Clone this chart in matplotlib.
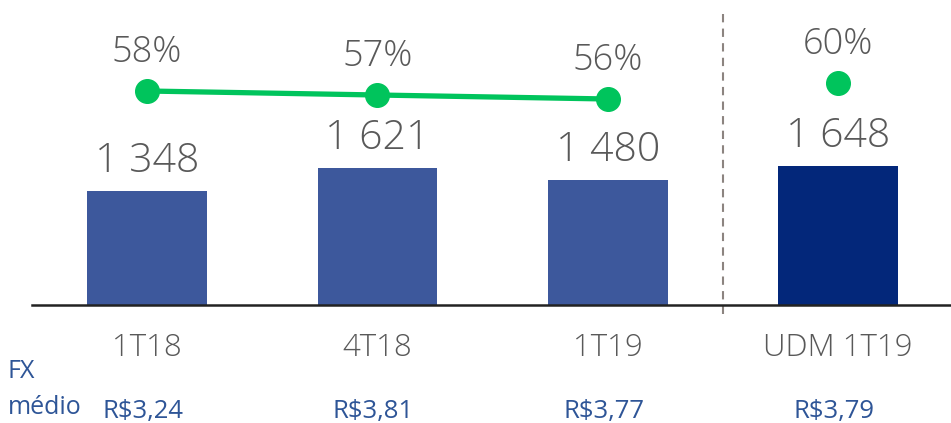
import matplotlib.pyplot as plt

plt.rcParams['font.family'] = ['Open Sans', 'DejaVu Sans']
plt.rcParams['font.weight'] = 'light'

categories = ['1T18', '4T18', '1T19', 'UDM 1T19']
values = [1348, 1621, 1480, 1648]
value_labels = ['1 348', '1 621', '1 480', '1 648']
pct = [58, 57, 56, 60]
fx = ['R$3,24', 'R$3,81', 'R$3,77', 'R$3,79']

bar_colors = ['#3d589c', '#3d589c', '#3d589c', '#03277a']
green = '#00c45c'
grey = '#595959'
blue = '#2e5597'

fig = plt.figure(figsize=(9.51, 4.23), dpi=100)
# axes: left edge at x=32px, baseline at y=305px
ax = fig.add_axes([32 / 951, (423 - 305) / 423, (951 - 32) / 951, 305 / 423])
x = list(range(len(categories)))

ax.bar(x, values, width=0.52, color=bar_colors, zorder=2)
for xi, v, lab in zip(x, values, value_labels):
    ax.annotate(lab, (xi, v), xytext=(0, 19), textcoords='offset pixels',
                ha='center', va='baseline', fontsize=29.5, color=grey)

ax.set_xlim(-0.5, 3.49)
ax.set_ylim(0, 3605)
for s in ['top', 'right', 'left']:
    ax.spines[s].set_visible(False)
ax.spines['bottom'].set_color('#222222')
ax.spines['bottom'].set_linewidth(1.8)
ax.set_yticks([])
ax.set_xticks([])

# category names and average FX below the axis
for xi, c, f in zip(x, categories, fx):
    ax.annotate(c, (xi, 0), xytext=(0, -51), textcoords='offset pixels',
                ha='center', va='baseline', fontsize=22.5, color=grey,
                annotation_clip=False)
    ax.annotate(f, (xi, 0), xytext=(-4, -113), textcoords='offset pixels',
                ha='center', va='baseline', fontsize=18.5, color=blue,
                fontweight='normal', annotation_clip=False)

# separator before UDM
ax.axvline(2.5, ymin=-0.03, ymax=0.96, color='#8c8480', linestyle=(0, (4, 3)),
           linewidth=1.5, clip_on=False)

# percentages on secondary axis
ax2 = ax.twinx()
ax2.set_ylim(4.5, 80.75)
ax2.axis('off')
ax2.plot(x[:3], pct[:3], color=green, linewidth=3.8, marker='o', markersize=17, zorder=3)
ax2.plot(x[3:], pct[3:], color=green, linestyle='none', marker='o', markersize=17)
for xi, p in zip(x, pct):
    ax2.annotate(f'{p}%', (xi, p), xytext=(0, 29), textcoords='offset pixels',
                 ha='center', va='baseline', fontsize=26, color=grey)

# FX row caption
fig.text(8 / 951, 1 - 378 / 423, 'FX', fontsize=18, color=blue, va='baseline',
         fontweight='normal')
fig.text(8 / 951, 1 - 414 / 423, 'médio', fontsize=18, color=blue, va='baseline',
         fontweight='normal')

fig.savefig('out.png', dpi=100)
